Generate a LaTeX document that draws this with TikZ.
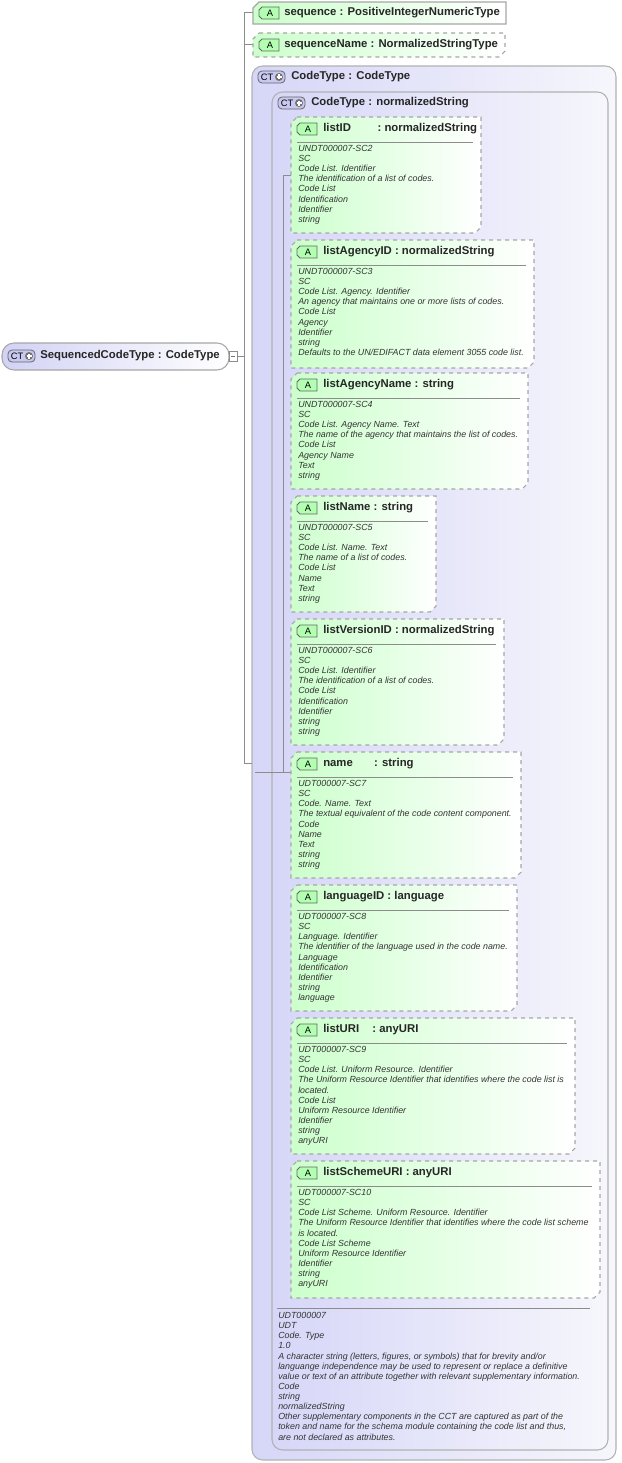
\documentclass[tikz,border=0pt]{standalone}
\usepackage{fontspec}
\setmainfont{Liberation Sans}
\begin{document}
\begin{tikzpicture}[x=0.75pt,y=-0.75pt,
  box/.style={draw=black!35,line width=0.8pt,left color=green!20!white,right color=white},
  body/.style={anchor=north west,inner sep=0pt,align=left,font=\fontsize{6.65}{7.6}\selectfont\itshape,text=black!80},
  ttl/.style={anchor=west,inner sep=0pt,font=\fontsize{8.5}{9}\selectfont\bfseries,text=black!85},
  ctbox/.style={draw=black!30,line width=0.8pt,rounded corners=8pt,left color={rgb,255:red,214;green,214;blue,248},right color={rgb,255:red,246;green,246;blue,252}},
  conn/.style={draw=black!45,line width=0.6pt}]
\useasboundingbox (0,0) rectangle (621,1463);
\newcommand\abadge[2]{% x, y center
  \draw[draw=black!60,fill=green!30,line width=0.6pt] (#1+3,#2-6)--(#1+20,#2-6)--(#1+20,#2+6)--(#1+3,#2+6)--(#1,#2+3)--(#1,#2-3)--cycle;
  \node[inner sep=0pt,font=\fontsize{7}{8}\selectfont] at (#1+11,#2) {A};}
\newcommand\ctbadge[2]{%
  \draw[draw=black!60,fill={rgb,255:red,200;green,200;blue,240},rounded corners=3pt,line width=0.6pt] (#1,#2-6) rectangle (#1+27,#2+6);
  \node[inner sep=0pt,font=\fontsize{7}{8}\selectfont] at (#1+9,#2) {CT};
  \fill[black!55] (#1+21,#2) circle (4);
  \draw[white,line width=0.8pt] (#1+18.5,#2)--(#1+23.5,#2) (#1+21,#2-2.5)--(#1+21,#2+2.5);}
\newcommand\attr[6]{%
  \path[box,dashed] (297,#3)--(#2,#3)--(#2,#4-6)--(#2-6,#4)--(291,#4)--(291,#3+6)--cycle;
  \coordinate (#1) at (291,#3+12);
  \abadge{297}{#3+12}
  \node[ttl] at (323,#3+12) {#5};
  \draw[black!45,line width=0.5pt] (297,#3+25)--(#2-8,#3+25);
  \node[body] at (298,#3+28) {#6};}
\path[ctbox] (252,66) rectangle (616,1460);
\ctbadge{258}{77}
\node[ttl] (ct1) at (291,77) {CodeType : CodeType};
\path[ctbox] (272,92) rectangle (608,1450);
\ctbadge{278}{103}
\node[ttl] (ct2) at (311,103) {CodeType : normalizedString};
\path[draw=black!35,line width=0.8pt,rounded corners=9pt,left color={rgb,255:red,210;green,210;blue,245},right color=white] (2,343) rectangle (229,370);
\ctbadge{8}{356}
\node[ttl] (root) at (40,356) {SequencedCodeType : CodeType};
\draw[black!45,fill=white,line width=0.5pt] (229,351) rectangle (237,361);
\draw[black!55,line width=0.5pt] (231,356)--(235,356);
\coordinate (rootx) at (237,356);
\coordinate (trunkT) at (244,12);
\coordinate (trunkB) at (244,763);
\draw[conn] (rootx)--(244,356);
\draw[conn] (trunkT)--(trunkB)--(252,763);
\draw[conn] (244,44)--(253,44);
\draw[conn] (trunkT)--(253,12);
\draw[conn] (283,175)--(283,772)--(291,772) (255,772)--(283,772);
\draw[conn] (283,175)--(291,175);
\path[box] (259,2)--(506,2)--(506,24)--(253,24)--(253,8)--cycle;
\abadge{259}{13}
\node[ttl] (seq) at (284,13) {sequence : PositiveIntegerNumericType};
\path[box,dashed] (259,33)--(505,33)--(505,51)--(499,57)--(253,57)--(253,39)--cycle;
\abadge{259}{45}
\node[ttl] (seqn) at (284,45) {sequenceName : NormalizedStringType};
\attr{a1}{481}{117}{233}{listID\hspace{20pt}: normalizedString}{UNDT000007-SC2\\SC\\Code List. Identifier\\The identification of a list of codes.\\Code List\\Identification\\Identifier\\string}
\attr{a2}{534}{240}{368}{listAgencyID : normalizedString}{UNDT000007-SC3\\SC\\Code List. Agency. Identifier\\An agency that maintains one or more lists of codes.\\Code List\\Agency\\Identifier\\string\\Defaults to the UN/EDIFACT data element 3055 code list.}
\attr{a3}{528}{373}{489}{listAgencyName : string}{UNDT000007-SC4\\SC\\Code List. Agency Name. Text\\The name of the agency that maintains the list of codes.\\Code List\\Agency Name\\Text\\string}
\attr{a4}{436}{496}{612}{listName : string}{UNDT000007-SC5\\SC\\Code List. Name. Text\\The name of a list of codes.\\Code List\\Name\\Text\\string}
\attr{a5}{504}{619}{745}{listVersionID : normalizedString}{UNDT000007-SC6\\SC\\Code List. Identifier\\The identification of a list of codes.\\Code List\\Identification\\Identifier\\string\\string}
\attr{a6}{521}{752}{878}{name\hspace{16pt}: string}{UDT000007-SC7\\SC\\Code. Name. Text\\The textual equivalent of the code content component.\\Code\\Name\\Text\\string\\string}
\attr{a7}{517}{885}{1011}{languageID : language}{UDT000007-SC8\\SC\\Language. Identifier\\The identifier of the language used in the code name.\\Language\\Identification\\Identifier\\string\\language}
\attr{a8}{575}{1018}{1154}{listURI\hspace{10pt}: anyURI}{UDT000007-SC9\\SC\\Code List. Uniform Resource. Identifier\\The Uniform Resource Identifier that identifies where the code list is\\located.\\Code List\\Uniform Resource Identifier\\Identifier\\string\\anyURI}
\attr{a9}{600}{1161}{1298}{listSchemeURI : anyURI}{UDT000007-SC10\\SC\\Code List Scheme. Uniform Resource. Identifier\\The Uniform Resource Identifier that identifies where the code list scheme\\is located.\\Code List Scheme\\Uniform Resource Identifier\\Identifier\\string\\anyURI}
\draw[black!45,line width=0.5pt] (277,1308)--(590,1308);
\node[body] (foot) at (278,1312) {UDT000007\\UDT\\Code. Type\\1.0\\A character string (letters, figures, or symbols) that for brevity and/or\\languange independence may be used to represent or replace a definitive\\value or text of an attribute together with relevant supplementary information.\\Code\\string\\normalizedString\\Other supplementary components in the CCT are captured as part of the\\token and name for the schema module containing the code list and thus,\\are not declared as attributes.};
\end{tikzpicture}
\end{document}
